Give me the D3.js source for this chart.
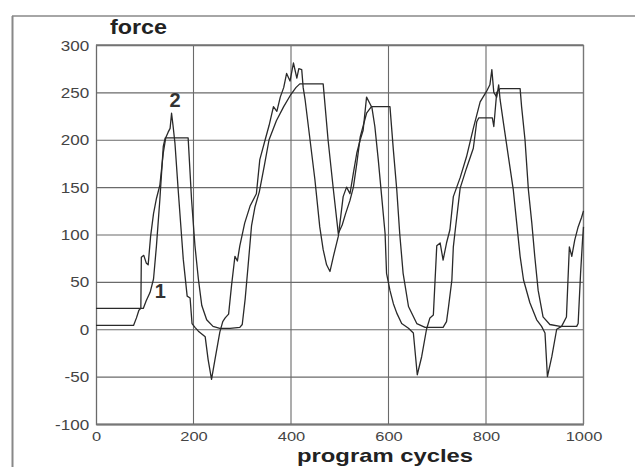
<!DOCTYPE html>
<html>
<head>
<meta charset="utf-8">
<script src="https://cdn.jsdelivr.net/npm/d3@7"></script>
<style>
  html, body { margin: 0; padding: 0; background: #fff; }
  svg { display: block; }
</style>
</head>
<body>
<svg id="chart" width="635" height="467"></svg>
<script>
// ---------------- data ----------------
const yTicks = [-100, -50, 0, 50, 100, 150, 200, 250, 300];
const xTicks = [0, 200, 400, 600, 800, 1000];
const xGrid = [200, 400, 600, 800];

// curve 1 (programmed force with plateaus)
const curve1Cycles = [0,97,103,111,118,124,131,138,142,189,196,203,210,217,227,240,254,275,295,300,306,312,319,326,335,345,355,370,385,400,410,418,466,476,487,497,505,512,521,528,535,542,555,565,603,610,617,623,630,641,658,675,712,719,723,730,733,737,747,760,774,781,785,813,816,822,829,870,873,880,887,894,900,907,917,931,952,986,989,994,998,1000];
const curve1Force  = [22,22,30,39,53,88,137,193,202,202,137,88,53,25,10,3,1,1,2,5,32,67,109,129,145,172,200,220,235,248,255,259,259,200,147,101,110,122,136,150,175,203,228,235,235,189,147,101,59,24,6,2,2,8,23,52,87,105,149,170,191,219,223,223,214,250,254,254,235,200,147,112,77,41,13,5,3,3,6,59,94,108];

// curve 2 (measured force)
const curve2Cycles = [0,40,77,83,88,92,93,98,103,107,112,118,124,131,138,143,148,152,155,158,162,169,179,187,193,197,203,210,217,224,230,237,244,254,260,265,272,278,285,290,295,305,316,329,336,347,355,364,371,378,385,391,398,405,412,416,422,425,429,439,449,459,466,473,480,487,497,507,514,521,528,535,542,548,555,562,566,572,579,586,593,596,603,610,617,627,641,651,659,668,678,685,692,699,706,712,719,726,733,747,760,774,788,801,808,812,816,822,826,829,836,846,856,863,870,877,890,904,914,921,926,935,945,955,965,971,976,982,989,996,1000];
const curve2Force  = [4,4,4,12,20,22,76,78,70,68,98,122,138,152,186,202,208,212,228,215,196,144,74,35,33,6,2,-2,-5,-8,-32,-53,-32,-3,8,12,16,46,77,72,88,112,130,143,179,200,215,235,230,245,255,270,262,281,265,275,274,255,242,200,158,108,84,68,61,77,98,140,150,143,165,186,200,210,245,238,234,214,179,140,101,59,41,27,17,6,1,-4,-48,-29,0,12,15,88,91,73,91,105,140,160,182,212,240,251,258,274,250,245,258,242,217,182,147,112,77,52,28,10,3,-4,-50,-29,0,3,13,87,77,94,108,118,125];

const curveLabels = [
  { text: "2", cycle: 162, force: 235 },
  { text: "1", cycle: 132, force: 33 }
];

// ---------------- drawing ----------------
const svg = d3.select("#chart");
const pLeft = 96, pRight = 583.5, pTop = 45, pBottom = 424;
const x = d3.scaleLinear().domain([0, 1000]).range([pLeft, pRight]);
const y = d3.scaleLinear().domain([-100, 300]).range([pBottom, pTop]);
const fmt = d => String(d);

// outer frame (scan border)
svg.append("line").attr("x1", 12).attr("x2", 635).attr("y1", 16).attr("y2", 16)
  .attr("stroke", "#888").attr("stroke-width", 1.6);
svg.append("line").attr("x1", 12.5).attr("x2", 12.5).attr("y1", 16).attr("y2", 467)
  .attr("stroke", "#888").attr("stroke-width", 2);

const gridColor = "#6a6a6a";

// y axis + horizontal grid
const yAxis = d3.axisLeft(y).tickValues(yTicks).tickSize(-(pRight - pLeft)).tickPadding(0)
  .tickFormat(fmt);
const gy = svg.append("g").attr("transform", `translate(${pLeft},0)`).call(yAxis);
gy.select(".domain").attr("stroke", gridColor).attr("stroke-width", 1.3);
gy.selectAll(".tick line").attr("stroke", gridColor).attr("stroke-width", 1.1);
gy.selectAll(".tick text")
  .attr("x", -5.5).attr("dy", "0.36em")
  .attr("transform", "scale(1.22,1)")
  .attr("fill", "#444")
  .style("font-family", "'Liberation Sans', Arial, sans-serif")
  .style("font-size", "14px");

// x axis + vertical grid
const xAxis = d3.axisBottom(x).tickValues(xTicks).tickSize(0).tickPadding(7)
  .tickFormat(fmt);
const gx = svg.append("g").attr("transform", `translate(0,${pBottom})`).call(xAxis);
gx.select(".domain").attr("stroke", "#777").attr("stroke-width", 2);
gx.selectAll(".tick text")
  .attr("transform", "scale(1.22,1)")
  .attr("fill", "#444")
  .style("font-family", "'Liberation Sans', Arial, sans-serif")
  .style("font-size", "13.5px");

svg.append("g").selectAll("line").data(xGrid).join("line")
  .attr("x1", d => x(d)).attr("x2", d => x(d))
  .attr("y1", pTop).attr("y2", pBottom)
  .attr("stroke", gridColor).attr("stroke-width", 1.1);

// plot border (top / right)
svg.append("line").attr("x1", pLeft).attr("x2", pRight).attr("y1", pTop).attr("y2", pTop)
  .attr("stroke", "#777").attr("stroke-width", 1.4);
svg.append("line").attr("x1", pRight).attr("x2", pRight).attr("y1", pTop).attr("y2", pBottom)
  .attr("stroke", "#777").attr("stroke-width", 1.4);

// curves
const line = d3.line().x(d => x(d[0])).y(d => y(d[1]));
const c1 = curve1Cycles.map((c, i) => [c, curve1Force[i]]);
const c2 = curve2Cycles.map((c, i) => [c, curve2Force[i]]);
[c1, c2].forEach(data => {
  svg.append("path").datum(data).attr("d", line)
    .attr("fill", "none").attr("stroke", "#2a2a2a").attr("stroke-width", 1.3)
    .attr("stroke-linejoin", "round");
});

// curve labels
svg.append("g").selectAll("text").data(curveLabels).join("text")
  .attr("x", d => x(d.cycle)).attr("y", d => y(d.force))
  .attr("text-anchor", "middle")
  .attr("fill", "#333")
  .style("font-family", "'Liberation Sans', Arial, sans-serif")
  .style("font-weight", "bold").style("font-size", "20px")
  .text(d => d.text);

// axis titles
svg.append("text").attr("x", 110).attr("y", 34)
  .attr("textLength", 57).attr("lengthAdjust", "spacingAndGlyphs")
  .attr("fill", "#222")
  .style("font-family", "'Liberation Sans', Arial, sans-serif")
  .style("font-weight", "bold").style("font-size", "21px")
  .text("force");
svg.append("text").attr("x", 297).attr("y", 462)
  .attr("textLength", 176).attr("lengthAdjust", "spacingAndGlyphs")
  .attr("fill", "#222")
  .style("font-family", "'Liberation Sans', Arial, sans-serif")
  .style("font-weight", "bold").style("font-size", "19px")
  .text("program cycles");
</script>
</body>
</html>
